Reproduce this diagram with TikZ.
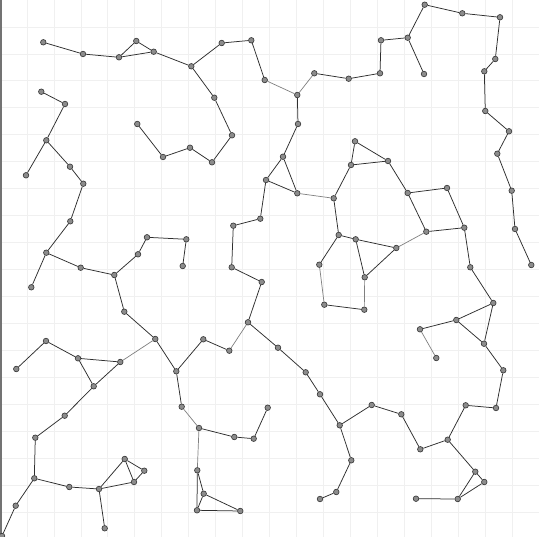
\documentclass[tikz,border=0pt]{standalone}
\begin{document}
\begin{tikzpicture}[x=1pt,y=-1pt,
  vtx/.style={circle,inner sep=0pt,minimum size=5.6pt,fill=black!45,draw=black!80,line width=0.6pt},
  edge/.style={draw=black!82,line width=0.75pt},
  faint/.style={draw=black!50,line width=0.7pt}]
\useasboundingbox (0,0) rectangle (539,537);
\clip (0,0) rectangle (539,537);
\fill[white] (0,0) rectangle (539,537);
\foreach \k in {1,...,20} {
  \draw[black!6,line width=0.7pt] ({26.95*\k},0) -- ({26.95*\k},537);
  \draw[black!6,line width=0.7pt] (0,{26.95*\k}) -- (539,{26.95*\k});
}
\draw[black!55,line width=2pt] (1,0) -- (1,537);
\foreach \n/\x/\y in {
A1/43.3/42.3, A2/83/54, A3/119/57.3, A4/136.3/41, A5/153.7/51.7,
B1/41.3/91.7, B2/65/104, B3/46.3/140.3, B4/26/175.3, B5/70/166.7, B6/83.3/183.7,
B7/70.3/221.3, B8/46.3/252.7, B9/31.3/287.3, B10/80.7/267.7, B11/114.3/275,
B12/138/254.3, B13/147/237.3, B14/124.3/311.7, B15/155.3/339, B16/186.3/239.3, B17/182.7/266,
C1/137.3/124, C2/163/157,
D1/191.3/66.3, D2/221.7/43, D3/251.3/40.3, D4/264.7/80, D5/297.3/95, D6/314.3/73.3,
D7/348.7/78.7, D8/298/124, D9/283/156.7, D10/266/180, D11/297.3/193.3,
E1/214.3/97.7, E2/232/135.3, E3/212/162.3, E4/190/147.7,
F1/355/141.3, F2/351/165,
G1/424.7/4.7, G2/462.3/13.3, G3/500/17.3, G4/495.3/59, G5/484.3/71.3, G6/485.3/111,
G7/509/131.3, G8/497.3/153.7, G9/511.7/190.7, G10/515/229, G11/531.3/265,
H1/407.7/37.7, H2/381/40.3, H3/380/73.3, H4/424/74, I1/388/161,
K0/16.3/369, K1/46/341, K2/78/358.3, K3/120.3/362, K4/93.7/386.3, K5/64.7/415.7,
K6/35.3/437.7, K7/34.3/478.3, K8/15.7/505.7, K9/2/536, K10/69.3/487, K11/99/489,
K12/104.7/528.3, K13/124.7/459, K14/144.3/470.7, K15/134/482,
L1/333.7/198.3, L2/338.7/235, L3/355.7/239.3, L4/319.3/264.7, L5/324.3/304.7,
M1/260.3/218.7, M2/233.3/225.7, M3/231.7/267.3, M4/261.7/282, M5/248/322.3,
M6/203.3/339.3, M7/229.3/350.7, M8/278/347.7,
N1/407.7/193, N2/447/188, N3/464.3/227.7, N4/426.3/231.7, N5/396.3/248, N6/364.7/277.3,
N7/364.3/309.7, N8/470.3/267.3, N9/493.3/303, N10/456.3/320, N11/420/329.3, N12/484/343.7,
N13/436.3/358, N14/503.3/370.3,
P1/176.3/371.3, P2/181.7/406.7, P3/199/428, P4/234.3/437, P5/253.7/438.7, P6/267.7/407.7,
P7/197.3/470.3, P8/203.7/493.7, P9/197/510.3, P10/240.3/511,
Q1/305.7/372.3, Q2/320/394.3, Q3/339.7/425.3, Q4/351.3/460.3, Q5/336.3/492, Q6/320/499,
R1/496/408, R2/465.7/405.3, R3/447.7/439.7, R4/420.3/449.3, R5/401.3/414.3, R6/371.7/405,
R7/475.3/471.7, R8/484.3/482, R9/457.7/499, R10/416/498.7}
  \node[vtx] (\n) at (\x,\y) {};
\foreach \a/\b in {
A1/A2, A2/A3, A3/A4, A4/A5, A3/A5, A5/D1,
B1/B2, B2/B3, B3/B4, B3/B5, B5/B6, B6/B7, B7/B8, B8/B9, B8/B10, B10/B11, B11/B12,
B12/B13, B13/B16, B16/B17, B11/B14, B14/B15, B15/P1,
C1/C2, C2/E4,
D1/D2, D2/D3, D3/D4, D6/D7, D7/H3, D5/D8, D8/D9, D9/D10, D9/D11, D10/D11, D10/M1,
D1/E1, E1/E2, E2/E3, E3/E4,
F1/F2, F1/I1, F2/I1, F2/L1,
G1/G2, G2/G3, G3/G4, G4/G5, G5/G6, G6/G7, G7/G8, G8/G9, G9/G10, G10/G11,
H1/G1, H1/H2, H2/H3, H1/H4, I1/N1,
K1/K0, K1/K2, K2/K3, K2/K4, K3/K4, K4/K5, K5/K6, K6/K7, K7/K8, K8/K9, K7/K10,
K10/K11, K11/K12, K11/K13, K11/K15, K13/K14, K14/K15, K13/K15,
L1/L2, L2/L3, L2/L4, L3/N5, L3/N6, L5/N7,
M1/M2, M2/M3, M3/M4, M4/M5, M7/M6, M6/P1, M5/M8, M8/Q1,
N1/N2, N2/N3, N1/N4, N4/N3, N5/N6, N3/N8, N8/N9, N9/N10, N10/N11, N10/N12, N9/N12,
N12/N14, N14/R1,
P1/P2, P3/P4, P4/P5, P5/P6, P7/P8, P7/P9, P8/P9, P8/P10, P9/P10,
Q1/Q2, Q2/Q3, Q3/Q4, Q4/Q5, Q5/Q6, Q3/R6,
R1/R2, R2/R3, R3/R4, R4/R5, R5/R6, R3/R7, R7/R8, R7/R9, R8/R9, R9/R10}
  \draw[edge] (\a) -- (\b);
\foreach \a/\b in {D4/D5, D5/D6, D11/L1, M5/M7, L4/L5, N6/N7, N4/N5, N11/N13, B15/K3, P2/P3, P3/P7}
  \draw[faint] (\a) -- (\b);
\end{tikzpicture}
\end{document}
